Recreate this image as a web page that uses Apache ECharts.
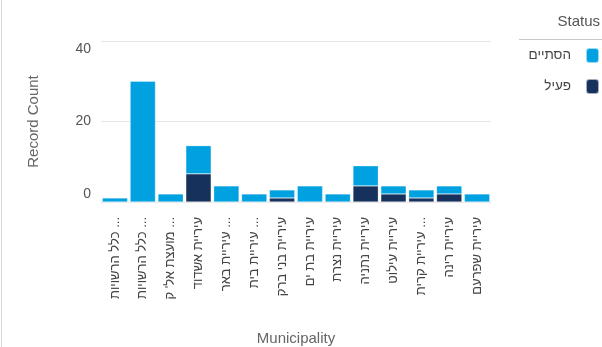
<!DOCTYPE html>
<html>
<head>
<meta charset="utf-8">
<script src="https://cdn.jsdelivr.net/npm/echarts@6/dist/echarts.min.js"></script>
<style>
  html, body { margin: 0; padding: 0; background: #fff; }
  #chart { width: 602px; height: 347px; }
</style>
</head>
<body>
<div id="chart"></div>
<script>
/* ---------------- Data ---------------- */
const municipalities = [
  "כלל הרשויות ...",
  "כלל הרשויות ...",
  "מועצת אל' ק ...",
  "עיריית אשדוד",
  "עיריית באר ...",
  "עיריית בית ...",
  "עיריית בני ברק",
  "עיריית בת ים",
  "עיריית נצרת",
  "עיריית נתניה",
  "עיריית עילוט",
  "עיריית קרית ...",
  "עיריית רינה",
  "עיריית שפרעם"
];
const statusNames = ["הסתיים", "פעיל"];
const endedCounts  = [1, 30, 2, 7, 4, 2, 2, 4, 2, 5, 2, 2, 2, 2];
const activeCounts = [0, 0, 0, 7, 0, 0, 1, 0, 0, 4, 2, 1, 2, 0];
const yTicks = [0, 20, 40];

const colors = { ended: "#00a1e0", active: "#16325c" };
const fontFamily = "'Liberation Sans', 'DejaVu Sans', Arial, sans-serif";

/* ---------------- Chart ---------------- */
const chart = echarts.init(document.getElementById("chart"));

const option = {
  animation: false,
  textStyle: { fontFamily },
  title: {
    text: "Status",
    right: 2,
    top: 14,
    padding: 0,
    textStyle: { fontSize: 15, fontWeight: "normal", color: "#555", fontFamily }
  },
  legend: {
    data: statusNames,
    orient: "vertical",
    right: 2,
    top: 47,
    padding: 0,
    align: "right",
    icon: "roundRect",
    itemWidth: 13,
    itemHeight: 15,
    itemGap: 14,
    textStyle: {
      fontSize: 13.5,
      color: "#444",
      width: 50,
      align: "right",
      padding: [0, 10, 0, 0],
      fontFamily
    }
  },
  graphic: [
    {
      type: "line",
      shape: { x1: 519, y1: 39.5, x2: 602, y2: 39.5 },
      style: { stroke: "#c8c8c8", lineWidth: 1 }
    },
    {
      type: "line",
      shape: { x1: 1.5, y1: 0, x2: 1.5, y2: 347 },
      style: { stroke: "#d6d6d6", lineWidth: 1 }
    }
  ],
  grid: { left: 101, top: 41, width: 390, height: 161, containLabel: false },
  xAxis: {
    type: "category",
    data: municipalities,
    name: "Municipality",
    nameLocation: "middle",
    nameGap: 129,
    nameTextStyle: { fontSize: 15, color: "#666", fontFamily },
    axisTick: { show: false },
    axisLine: { lineStyle: { color: "#e6e6e6" } },
    axisLabel: {
      rotate: 90,
      interval: 0,
      margin: 15,
      fontSize: 13,
      color: "#444",
      fontFamily
    }
  },
  yAxis: {
    type: "value",
    min: yTicks[0],
    max: yTicks[yTicks.length - 1],
    interval: yTicks[1] - yTicks[0],
    name: "Record Count",
    nameLocation: "middle",
    nameGap: 60,
    nameTextStyle: { fontSize: 15, color: "#666", fontFamily },
    axisLine: { show: false },
    axisTick: { show: false },
    splitLine: { lineStyle: { color: "#e8e8e8" } },
    axisLabel: {
      margin: 10,
      fontSize: 14,
      color: "#555",
      fontFamily,
      formatter: v => {
        if (v === yTicks[yTicks.length - 1]) return "{top|" + v + "}";
        if (v === yTicks[0]) return "{bot|" + v + "}";
        return "{mid|" + v + "}";
      },
      rich: {
        top: { fontSize: 14, color: "#555", padding: [16, 0, 0, 0] },
        mid: { fontSize: 14, color: "#555" },
        bot: { fontSize: 14, color: "#555", padding: [0, 0, 16, 0] }
      }
    }
  },
  series: [
    {
      name: statusNames[1],
      type: "bar",
      stack: "total",
      data: activeCounts,
      barCategoryGap: "9%",
      itemStyle: { color: colors.active, borderColor: "rgba(255,255,255,0.6)", borderWidth: 0.5 }
    },
    {
      name: statusNames[0],
      type: "bar",
      stack: "total",
      data: endedCounts,
      barCategoryGap: "9%",
      itemStyle: { color: colors.ended, borderColor: "rgba(255,255,255,0.6)", borderWidth: 0.5 }
    }
  ]
};

chart.setOption(option);
</script>
</body>
</html>
